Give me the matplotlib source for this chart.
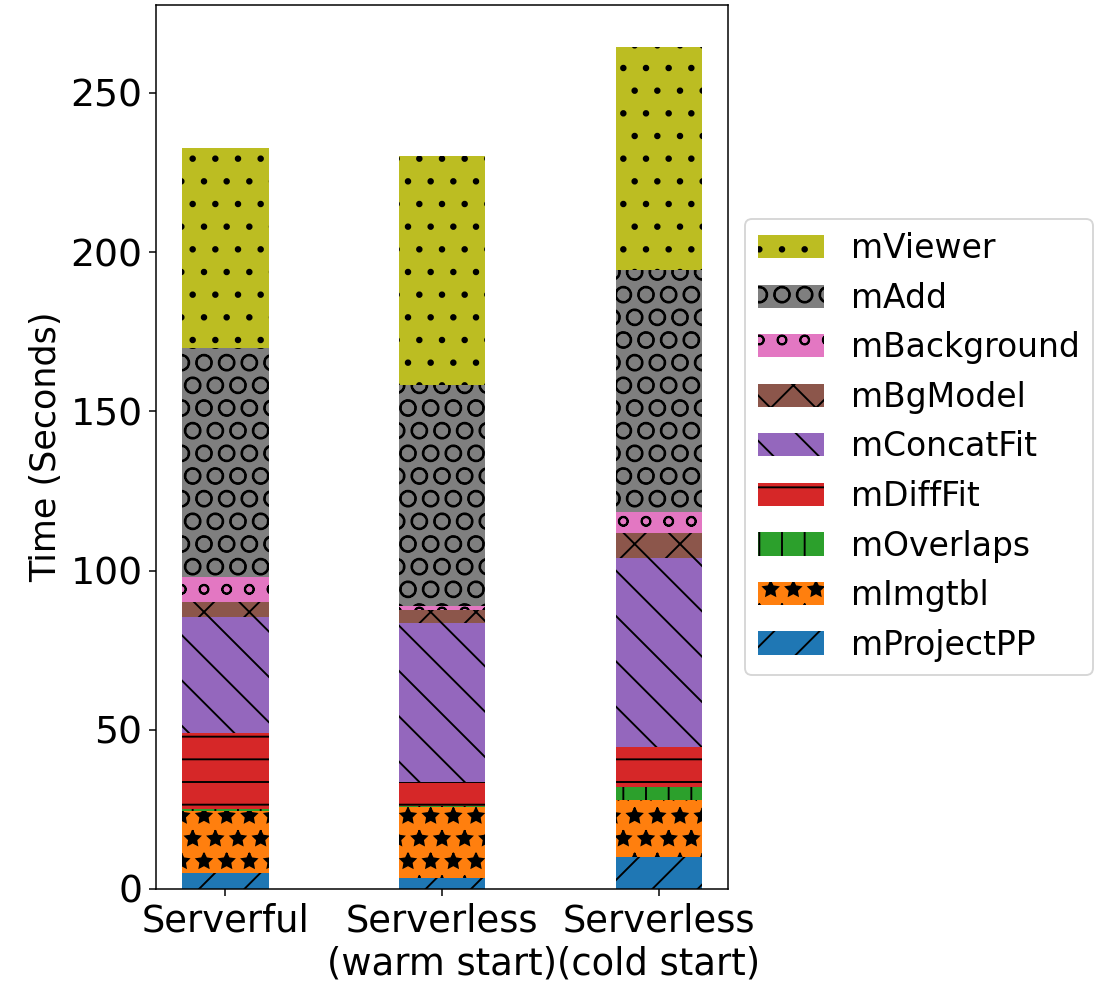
import matplotlib
matplotlib.use("Agg")
import matplotlib.pyplot as plt
import numpy as np

# Execution setups
setups = ["Serverful", "Serverless\n(warm start)", "Serverless\n(cold start)"]

# Per-stage time (seconds), stacked bottom to top
stages = ["mProjectPP", "mImgtbl", "mOverlaps", "mDiffFit", "mConcatFit",
          "mBgModel", "mBackground", "mAdd", "mViewer"]
mProjectPP = [4.9, 3.5, 9.9]
mImgtbl = [19.5, 22.2, 18.0]
mOverlaps = [0.6, 0.3, 4.2]
mDiffFit = [24.1, 7.6, 12.4]
mConcatFit = [36.3, 50.0, 59.6]
mBgModel = [4.8, 3.9, 7.6]
mBackground = [7.9, 1.3, 6.6]
mAdd = [71.8, 69.4, 76.2]
mViewer = [62.8, 71.9, 69.9]

series = [mProjectPP, mImgtbl, mOverlaps, mDiffFit, mConcatFit,
          mBgModel, mBackground, mAdd, mViewer]
hatches = ["/", "*", "|", "-", "\\", "x", "o", "O", "."]
colors = ["C0", "C1", "C2", "C3", "C4", "C5", "C6", "C7", "C8"]

DPI = 136
fig = plt.figure(figsize=(1107 / DPI, 981 / DPI), dpi=DPI)
ax = fig.add_subplot(111)
fig.subplots_adjust(left=0.1407, right=0.658, bottom=0.0938, top=0.9949)

x = np.arange(len(setups))
bottom = np.zeros(len(setups))
for name, vals, h, c in zip(stages, series, hatches, colors):
    vals = np.array(vals)
    ax.bar(x, vals, 0.4, bottom=bottom, label=name, color=c, hatch=h)
    bottom += vals

ax.set_xticks(x)
ax.set_xticklabels(setups, fontsize=19.5)
ax.tick_params(axis="y", labelsize=20)
ax.set_ylabel("Time (Seconds)", fontsize=18.5)

handles, labels = ax.get_legend_handles_labels()
ax.legend(handles[::-1], labels[::-1], loc="center left",
          bbox_to_anchor=(1, 0.5), fontsize=17.5)

fig.savefig("out.png", dpi=DPI)
